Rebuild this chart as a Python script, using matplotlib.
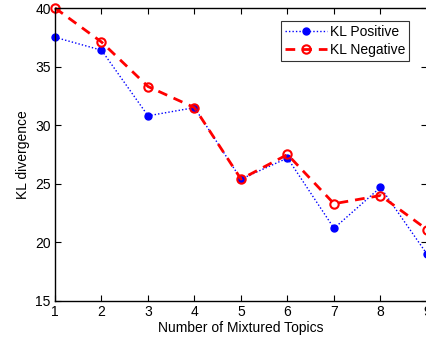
import matplotlib
matplotlib.use("Agg")
import matplotlib.pyplot as plt

# values
topics = [1, 2, 3, 4, 5, 6, 7, 8, 9]
kl_positive = [37.5, 36.4, 30.8, 31.5, 25.4, 27.2, 21.2, 24.7, 19.0]
kl_negative = [40.0, 37.1, 33.3, 31.5, 25.4, 27.5, 23.3, 24.0, 21.1]
y_ticks = [15, 20, 25, 30, 35, 40]

plt.rcParams['font.family'] = ['Liberation Sans', 'DejaVu Sans']
plt.rcParams['font.size'] = 10

fig = plt.figure(figsize=(4.27, 3.41), dpi=100)
ax = fig.add_axes([55 / 427, 40 / 341, 372 / 427, 293 / 341])

ax.plot(topics, kl_positive, linestyle=(0, (1, 1.5)), color='blue', linewidth=1.0,
        marker='o', markersize=5, markerfacecolor='blue', markeredgecolor='blue',
        label='KL Positive', clip_on=False)
ax.plot(topics, kl_negative, linestyle=(0, (3.5, 2.5)), color='red', linewidth=2.0,
        marker='o', markersize=6, markerfacecolor='none', markeredgecolor='red',
        markeredgewidth=1.5, label='KL Negative', clip_on=False)

ax.set_xlim(1, 9)
ax.set_ylim(15, 40)
ax.set_xticks(topics)
ax.set_yticks(y_ticks)
ax.tick_params(direction='in', top=True, right=True, length=4, width=0.8,
               pad=3, labelsize=10)
for s in ax.spines.values():
    s.set_linewidth(1.0)

ax.set_xlabel('Number of Mixtured Topics', fontsize=10, labelpad=1)
ax.set_ylabel('KL divergence', fontsize=10, labelpad=4)

leg = ax.legend(loc='upper right', bbox_to_anchor=(0.952, 0.955), fontsize=10,
                frameon=True, fancybox=False, edgecolor='black',
                handlelength=3.0, handletextpad=0.2, borderpad=0.3,
                labelspacing=0.25, borderaxespad=0)
leg.get_frame().set_linewidth(0.8)

fig.savefig('out.png', dpi=100)
